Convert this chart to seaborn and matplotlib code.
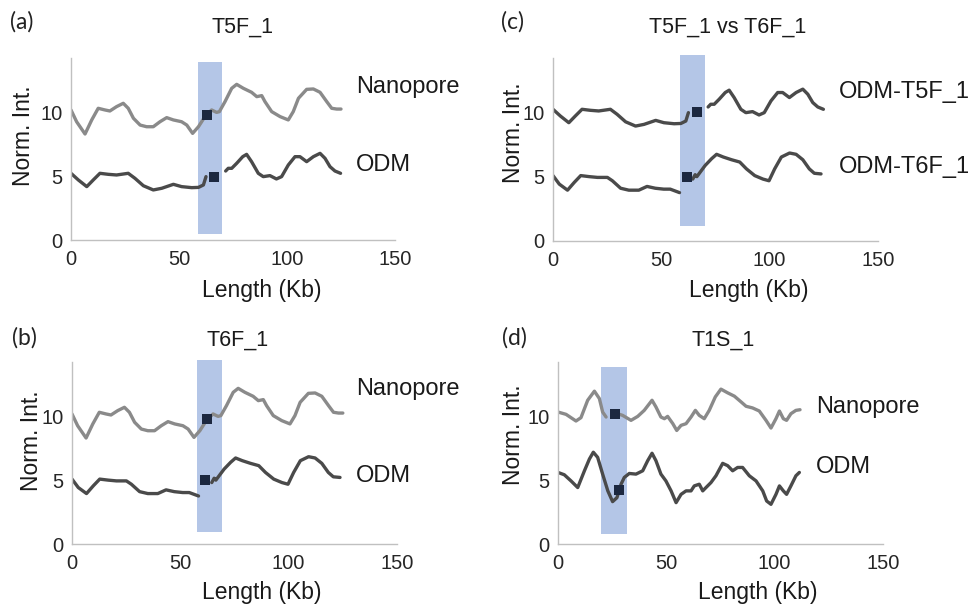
import pandas as pd
import seaborn as sns
import matplotlib.pyplot as plt

# Nanopore trace (same reference for T5F_1 and T6F_1)
nano_x = [0, 2.6, 6.5, 9.6, 12.6, 15.7, 18.0, 21.1, 24.2, 26.5, 28.9, 32.0, 35.0, 38.1, 41.2, 44.3,
          47.4, 51.2, 53.6, 56.3, 59.0, 62.0, 65.1, 67.4, 68.7, 71.3, 74.4, 76.7, 79.8, 83.6, 86.0,
          88.3, 89.8, 92.9, 96.8, 100.6, 102.9, 105.3, 109.1, 112.2, 115.3, 118.4, 120.7, 123.0, 125.0]
nano_y = [10.16, 9.24, 8.28, 9.38, 10.29, 10.16, 10.08, 10.42, 10.68, 10.29, 9.51, 8.98, 8.85, 8.85, 9.24, 9.56,
          9.38, 9.24, 8.98, 8.33, 8.85, 9.64, 10.16, 9.97, 10.03, 10.81, 11.85, 12.16, 11.85, 11.54, 11.2,
          11.28, 10.81, 10.03, 9.64, 9.38, 10.03, 11.07, 11.77, 11.8, 11.54, 10.81, 10.29, 10.23, 10.23]

# ODM T5F_1 (two pieces, gap inside the highlighted region)
odm5_x1 = [0, 3.4, 7.3, 10.3, 13.4, 17.3, 21.1, 26.5, 29.6, 33.5, 38.1, 42.0, 47.4, 51.2, 55.9, 59.0, 61.3, 62.5]
odm5_y1 = [5.21, 4.69, 4.17, 4.69, 5.21, 5.13, 5.08, 5.21, 4.82, 4.24, 3.91, 4.04, 4.35, 4.17, 4.09, 4.11, 4.30, 4.95]
odm5_x2 = [71.6, 72.8, 74.4, 76.7, 79.5, 81.3, 83.6, 86.7, 89.0, 92.1, 95.1, 97.5, 100.6, 103.7, 106.0,
           109.1, 112.2, 115.3, 117.6, 119.9, 122.2, 124.8]
odm5_y2 = [5.39, 5.6, 5.6, 5.99, 6.51, 6.69, 6.12, 5.21, 4.95, 5.03, 4.77, 4.95, 5.86, 6.51, 6.51,
           6.12, 6.51, 6.77, 6.38, 5.73, 5.39, 5.21]

# ODM T6F_1
odm6_x1 = [0, 2.9, 6.7, 9.8, 12.8, 16.7, 20.5, 25.1, 27.4, 31.2, 35.0, 39.6, 43.4, 47.2, 51.1, 54.1, 58.4]
odm6_y1 = [5.07, 4.41, 3.94, 4.54, 5.07, 4.99, 4.93, 4.93, 4.67, 4.09, 3.94, 3.94, 4.23, 4.09, 4.02, 4.02, 3.75]
odm6_x2 = [64.5, 65.6, 66.4, 67.9, 70.2, 73.2, 75.5, 78.6, 82.4, 86.2, 89.3, 93.1, 96.9, 99.7, 102.3,
           105.4, 109.2, 112.2, 115.3, 118.3, 120.6, 123.7]
odm6_y2 = [4.80, 5.14, 4.99, 5.33, 5.85, 6.38, 6.72, 6.51, 6.30, 6.12, 5.59, 5.07, 4.80, 4.67, 5.59,
           6.51, 6.82, 6.72, 6.30, 5.59, 5.25, 5.20]

# T1S_1
nano1s_x1 = [0, 3.7, 8.3, 10.6, 13.7, 16.8, 19.1, 20.6, 22.2]
nano1s_y1 = [10.31, 10.13, 9.61, 9.87, 11.23, 11.94, 11.36, 10.31, 9.92]
nano1s_x2 = [28.0, 29.8, 33.7, 36.8, 39.8, 43.4, 45.2, 47.5, 49.1, 50.6, 53.0, 54.8, 56.8, 59.1, 61.4, 63.4,
             65.2, 67.5, 69.8, 72.6, 75.2, 78.3, 81.4, 84.5, 86.8, 89.8, 92.9, 96.0, 98.3, 100.6,
             102.2, 104.0, 105.5, 107.5, 109.8, 111.7]
nano1s_y2 = [10.15, 10.05, 9.66, 9.97, 10.44, 11.23, 10.71, 9.92, 9.79, 9.97, 9.40, 8.87, 9.27, 9.40, 9.92, 10.44,
             10.05, 9.79, 10.44, 11.49, 12.10, 11.81, 11.55, 11.10, 10.76, 10.63, 10.39, 9.66, 9.06, 9.79,
             10.39, 9.79, 9.66, 10.18, 10.44, 10.49]
odm1s_x = [0, 2.9, 6.0, 9.1, 12.2, 14.5, 16.3, 18.3, 20.6, 23.0, 25.2, 27.2, 29.1, 30.6, 32.9, 36.0, 39.1,
           41.4, 43.4, 45.2, 47.5, 49.8, 52.2, 54.5, 56.8, 59.1, 61.4, 62.9, 65.2, 66.8, 68.3, 70.6, 72.9,
           76.0, 78.3, 80.6, 82.9, 85.2, 88.3, 91.4, 94.5, 96.3, 98.3, 100.6, 102.2, 104.0, 105.5, 107.5,
           109.8, 111.4]
odm1s_y = [5.59, 5.41, 4.93, 4.41, 5.72, 6.64, 7.17, 6.77, 5.46, 4.15, 3.31, 3.62, 4.67, 5.20, 5.51, 5.46, 5.72,
           6.51, 7.09, 6.51, 5.46, 4.93, 4.15, 3.23, 3.88, 4.15, 4.15, 4.54, 4.67, 4.15, 4.41, 4.80, 5.33,
           6.30, 6.12, 5.72, 5.98, 5.98, 5.33, 4.93, 4.15, 3.36, 3.10, 3.88, 4.54, 4.15, 3.88, 4.54,
           5.33, 5.59]

# breakpoint squares (x, y) per panel
marks_a = [(62.8, 9.8), (66.3, 4.95)]
marks_b = [(62.2, 9.8), (61.5, 5.0)]
marks_c = [(66.5, 10.0), (61.8, 5.0)]
marks_d = [(26.5, 10.15), (28.0, 4.2)]

# highlighted regions (x0, x1, y0, y1)
band_a = (58.6, 70.1, 0.5, 13.9)
band_b = (57.6, 69.0, 0.9, 14.4)
band_c = (58.6, 70.3, 1.2, 14.4)
band_d = (19.8, 31.7, 0.8, 13.8)

ODM_SHIFT = 5  # panel (c) stacks the T5F_1 trace 5 units higher

sns.set_style("white")
plt.rcParams['font.family'] = ['Liberation Sans', 'DejaVu Sans']

W, H = 973, 606
fig = plt.figure(figsize=(W / 100, H / 100), dpi=100)

LIGHT = '#8a8a8a'
DARK = '#4a4a4a'
SQ = '#1c2840'
BAND = '#b4c6e7'
TXT = '#1a1a1a'
YTOP = 14.6


def px(x, y):
    return x / W, 1 - y / H


def make_axes(left, right, y0, unit):
    top = y0 - YTOP * unit
    ax = fig.add_axes([left / W, 1 - y0 / H, (right - left) / W, (y0 - top) / H])
    ax.set_xlim(0, 150)
    ax.set_ylim(0, YTOP)
    for s in ['top', 'right']:
        ax.spines[s].set_visible(False)
    for s in ['left', 'bottom']:
        ax.spines[s].set_color('#c0c0c0')
        ax.spines[s].set_linewidth(1.0)
    ax.spines['left'].set_bounds(0, 14.2)
    ax.set_xticks([0, 50, 100, 150])
    ax.set_yticks([0, 5, 10])
    ax.tick_params(axis='x', direction='in', length=3, color='#c0c0c0', pad=7,
                   labelsize=14.5, labelcolor='#262626')
    ax.tick_params(axis='y', length=0, pad=6, labelsize=14.5, labelcolor='#262626')
    return ax


def draw_line(ax, segs, color):
    frames = []
    for i, (xs, ys) in enumerate(segs):
        frames.append(pd.DataFrame({'x': xs, 'y': ys, 'seg': i}))
    df = pd.concat(frames, ignore_index=True)
    sns.lineplot(data=df, x='x', y='y', units='seg', estimator=None, sort=False,
                 color=color, lw=2.4, ax=ax, zorder=2)


def finish(ax, band, marks):
    x0, x1, y0, y1 = band
    ax.fill_betweenx([y0, y1], x0, x1, color=BAND, lw=0, zorder=1)
    mx = [m[0] for m in marks]
    my = [m[1] for m in marks]
    sns.scatterplot(x=mx, y=my, marker='s', s=52, color=SQ, linewidth=0, ax=ax, zorder=3)
    ax.set_xlabel('')
    ax.set_ylabel('')


# (a)
ax = make_axes(71, 395, 240, 12.8)
draw_line(ax, [(nano_x, nano_y)], LIGHT)
draw_line(ax, [(odm5_x1, odm5_y1), (odm5_x2, odm5_y2)], DARK)
finish(ax, band_a, marks_a)

# (c)
ax = make_axes(553, 878, 241, 12.9)
draw_line(ax, [(odm5_x1, [v + ODM_SHIFT for v in odm5_y1]),
               (odm5_x2, [v + ODM_SHIFT for v in odm5_y2])], DARK)
draw_line(ax, [(odm6_x1, odm6_y1), (odm6_x2, odm6_y2)], DARK)
finish(ax, band_c, marks_c)

# (b)
ax = make_axes(72, 397, 544, 12.8)
draw_line(ax, [(nano_x, nano_y)], LIGHT)
draw_line(ax, [(odm6_x1, odm6_y1), (odm6_x2, odm6_y2)], DARK)
finish(ax, band_b, marks_b)

# (d)
ax = make_axes(558, 883, 544, 12.8)
draw_line(ax, [(nano1s_x1, nano1s_y1), (nano1s_x2, nano1s_y2)], LIGHT)
draw_line(ax, [(odm1s_x, odm1s_y)], DARK)
finish(ax, band_d, marks_d)

# panel letters, titles, axis labels, trace names
for lab, x, y in [('(a)', 22, 22), ('(c)', 513, 22), ('(b)', 24, 338), ('(d)', 514, 338)]:
    fig.text(*px(x, y), lab, ha='center', va='center', fontsize=16.5, color='#222222',
             family=['Lato', 'DejaVu Sans'])

for t, x, y in [('T5F_1', 243, 27), ('T5F_1 vs T6F_1', 728, 27), ('T6F_1', 238, 340), ('T1S_1', 723, 340)]:
    fig.text(*px(x, y), t, ha='center', va='center', fontsize=15.5, color=TXT)

for x, y in [(262, 290), (749, 290), (262, 593), (758, 593)]:
    fig.text(*px(x, y), 'Length (Kb)', ha='center', va='center', fontsize=16.5, color=TXT)

for x, y in [(24, 136), (513, 133), (32, 441), (514, 435)]:
    fig.text(*px(x, y), 'Norm. Int.', ha='center', va='center', rotation=90, fontsize=16.5, color=TXT)

for t, x, y in [('Nanopore', 356, 87), ('ODM', 356, 165),
                ('ODM-T5F_1', 839, 92), ('ODM-T6F_1', 839, 167),
                ('Nanopore', 356, 389), ('ODM', 356, 476),
                ('Nanopore', 816, 407), ('ODM', 816, 467)]:
    fig.text(*px(x, y), t, ha='left', va='center', fontsize=17, color=TXT)

fig.savefig('out.png', dpi=100)
